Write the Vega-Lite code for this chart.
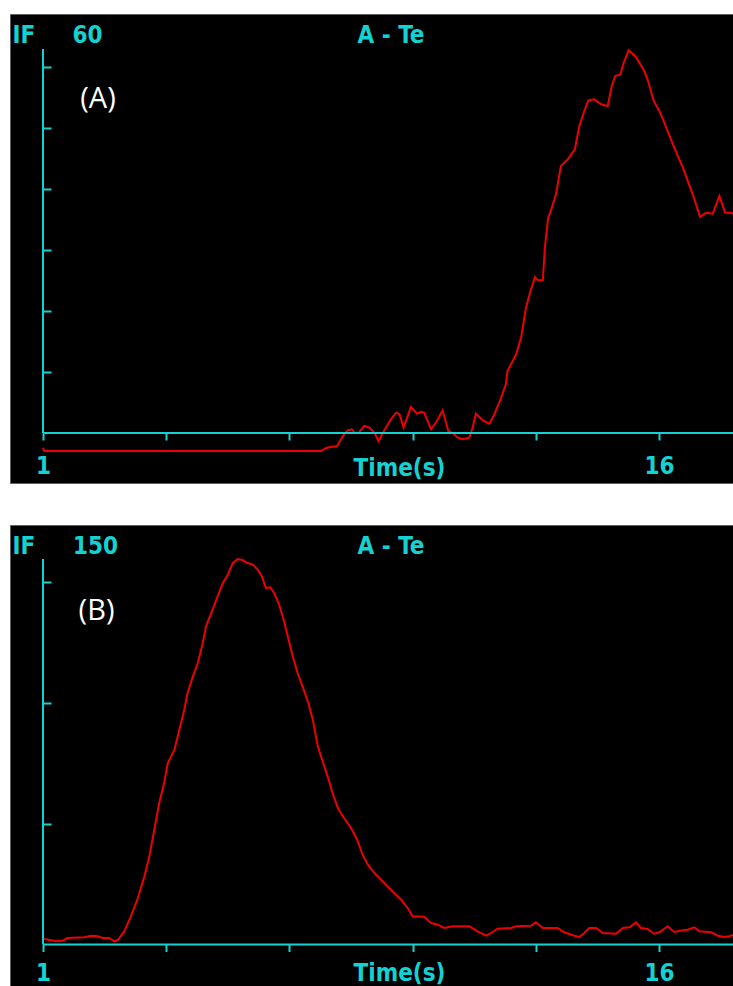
{
  "$schema": "https://vega.github.io/schema/vega-lite/v6.json",
  "background": "white",
  "padding": {"left": 9, "top": 13, "right": 0, "bottom": 0},
  "spacing": 40,
  "config": {
    "view": {"fill": "black", "stroke": "#606060", "strokeWidth": 1},
    "text": {"font": "DejaVu Sans Condensed", "fontWeight": "bold", "fontSize": 24, "color": "#14d2d2", "align": "center", "baseline": "alphabetic"},
    "rule": {"color": "#14d2d2", "strokeWidth": 2},
    "line": {"color": "#ee0000", "strokeWidth": 2}
  },
  "resolve": {"scale": {"x": "independent", "y": "independent"}},
  "datasets": {
    "a": [
      {"t": 1.0, "v": -2.46}, {"t": 1.03, "v": -2.95}, {"t": 7.77, "v": -2.95}, {"t": 7.89, "v": -2.46},
      {"t": 8.01, "v": -2.30}, {"t": 8.16, "v": -2.13}, {"t": 8.30, "v": -0.49}, {"t": 8.42, "v": 0.44},
      {"t": 8.52, "v": 0.61}, {"t": 8.58, "v": 0.05}, {"t": 8.69, "v": 0.05}, {"t": 8.82, "v": 1.15},
      {"t": 8.95, "v": 0.87}, {"t": 9.07, "v": 0.05}, {"t": 9.17, "v": -1.31}, {"t": 9.30, "v": 0.33},
      {"t": 9.47, "v": 2.25}, {"t": 9.60, "v": 3.33}, {"t": 9.68, "v": 3.07}, {"t": 9.78, "v": 0.87},
      {"t": 9.96, "v": 4.26}, {"t": 10.11, "v": 3.16}, {"t": 10.20, "v": 3.49}, {"t": 10.28, "v": 3.33},
      {"t": 10.45, "v": 0.61}, {"t": 10.59, "v": 1.97}, {"t": 10.73, "v": 3.72}, {"t": 10.87, "v": 0.33},
      {"t": 10.98, "v": -0.05}, {"t": 11.10, "v": -0.77}, {"t": 11.22, "v": -1.03}, {"t": 11.38, "v": -0.77},
      {"t": 11.46, "v": 0.87}, {"t": 11.54, "v": 3.16}, {"t": 11.71, "v": 2.08}, {"t": 11.87, "v": 1.52},
      {"t": 11.99, "v": 3.07}, {"t": 12.15, "v": 5.66}, {"t": 12.27, "v": 8.0}, {"t": 12.31, "v": 10.16},
      {"t": 12.52, "v": 12.90}, {"t": 12.64, "v": 15.62}, {"t": 12.76, "v": 20.54}, {"t": 12.87, "v": 23.28},
      {"t": 12.98, "v": 25.57}, {"t": 13.05, "v": 25.03}, {"t": 13.17, "v": 25.03}, {"t": 13.22, "v": 30.38},
      {"t": 13.30, "v": 35.30}, {"t": 13.35, "v": 36.11}, {"t": 13.44, "v": 38.03}, {"t": 13.49, "v": 39.13},
      {"t": 13.61, "v": 43.77}, {"t": 13.78, "v": 44.87}, {"t": 13.95, "v": 46.51}, {"t": 14.06, "v": 50.33},
      {"t": 14.18, "v": 52.79}, {"t": 14.28, "v": 54.54}, {"t": 14.42, "v": 54.70}, {"t": 14.59, "v": 53.89},
      {"t": 14.75, "v": 53.61}, {"t": 14.85, "v": 56.89}, {"t": 14.93, "v": 58.52}, {"t": 15.06, "v": 58.80},
      {"t": 15.14, "v": 60.70}, {"t": 15.26, "v": 62.74}, {"t": 15.44, "v": 61.64}, {"t": 15.64, "v": 59.34},
      {"t": 15.72, "v": 57.98}, {"t": 15.87, "v": 54.43}, {"t": 16.03, "v": 52.51}, {"t": 16.37, "v": 46.77},
      {"t": 16.58, "v": 43.49}, {"t": 16.82, "v": 39.13}, {"t": 17.00, "v": 35.41}, {"t": 17.14, "v": 36.11},
      {"t": 17.31, "v": 35.95}, {"t": 17.47, "v": 38.85}, {"t": 17.61, "v": 36.11}, {"t": 17.75, "v": 36.11},
      {"t": 17.825, "v": 35.85}
    ],
    "b": [
      {"t": 1.03, "v": 2.28}, {"t": 1.20, "v": 1.74}, {"t": 1.32, "v": 1.32}, {"t": 1.48, "v": 1.57},
      {"t": 1.60, "v": 2.69}, {"t": 2.01, "v": 2.98}, {"t": 2.17, "v": 3.64}, {"t": 2.33, "v": 3.39},
      {"t": 2.45, "v": 2.69}, {"t": 2.61, "v": 2.69}, {"t": 2.74, "v": 1.32}, {"t": 2.83, "v": 1.99},
      {"t": 2.98, "v": 5.46}, {"t": 3.14, "v": 11.67}, {"t": 3.31, "v": 19.24}, {"t": 3.47, "v": 28.22},
      {"t": 3.59, "v": 36.50}, {"t": 3.71, "v": 47.50}, {"t": 3.83, "v": 58.55}, {"t": 3.95, "v": 66.83},
      {"t": 4.04, "v": 75.10}, {"t": 4.20, "v": 80.61}, {"t": 4.32, "v": 88.88}, {"t": 4.44, "v": 97.16},
      {"t": 4.52, "v": 104.07}, {"t": 4.65, "v": 110.98}, {"t": 4.77, "v": 116.48}, {"t": 4.89, "v": 124.76},
      {"t": 4.97, "v": 131.67}, {"t": 5.13, "v": 138.54}, {"t": 5.25, "v": 144.08}, {"t": 5.38, "v": 149.58},
      {"t": 5.50, "v": 153.02}, {"t": 5.62, "v": 157.86}, {"t": 5.74, "v": 159.51}, {"t": 5.86, "v": 159.10},
      {"t": 5.94, "v": 158.15}, {"t": 6.11, "v": 157.16}, {"t": 6.23, "v": 155.09}, {"t": 6.33, "v": 152.36},
      {"t": 6.43, "v": 147.52}, {"t": 6.53, "v": 147.81}, {"t": 6.63, "v": 145.45}, {"t": 6.75, "v": 140.61},
      {"t": 6.86, "v": 134.40}, {"t": 6.96, "v": 127.53}, {"t": 7.08, "v": 119.25}, {"t": 7.20, "v": 112.34},
      {"t": 7.32, "v": 106.84}, {"t": 7.46, "v": 99.93}, {"t": 7.57, "v": 93.02}, {"t": 7.69, "v": 82.01},
      {"t": 7.81, "v": 75.81}, {"t": 7.93, "v": 69.60}, {"t": 8.05, "v": 62.69}, {"t": 8.18, "v": 56.48},
      {"t": 8.30, "v": 53.05}, {"t": 8.50, "v": 48.21}, {"t": 8.65, "v": 43.36}, {"t": 8.78, "v": 37.16},
      {"t": 8.91, "v": 33.02}, {"t": 9.07, "v": 29.59}, {"t": 9.31, "v": 25.45}, {"t": 9.47, "v": 22.68},
      {"t": 9.72, "v": 18.54}, {"t": 9.88, "v": 15.10}, {"t": 10.00, "v": 11.67}, {"t": 10.28, "v": 11.50},
      {"t": 10.45, "v": 8.90}, {"t": 10.61, "v": 8.19}, {"t": 10.77, "v": 6.83}, {"t": 10.98, "v": 7.53},
      {"t": 11.38, "v": 7.53}, {"t": 11.58, "v": 5.46}, {"t": 11.79, "v": 3.64}, {"t": 11.91, "v": 4.76},
      {"t": 12.07, "v": 6.54}, {"t": 12.40, "v": 6.83}, {"t": 12.52, "v": 7.53}, {"t": 12.88, "v": 7.78},
      {"t": 13.00, "v": 9.19}, {"t": 13.17, "v": 6.83}, {"t": 13.53, "v": 6.83}, {"t": 13.69, "v": 5.05},
      {"t": 13.94, "v": 3.64}, {"t": 14.06, "v": 3.10}, {"t": 14.18, "v": 4.76}, {"t": 14.30, "v": 6.83},
      {"t": 14.47, "v": 6.83}, {"t": 14.63, "v": 4.76}, {"t": 14.95, "v": 4.47}, {"t": 15.12, "v": 6.83},
      {"t": 15.28, "v": 7.12}, {"t": 15.44, "v": 9.19}, {"t": 15.56, "v": 6.83}, {"t": 15.72, "v": 6.41},
      {"t": 15.88, "v": 4.47}, {"t": 16.01, "v": 5.05}, {"t": 16.21, "v": 7.53}, {"t": 16.37, "v": 5.17},
      {"t": 16.58, "v": 5.88}, {"t": 16.70, "v": 6.12}, {"t": 16.86, "v": 7.12}, {"t": 16.98, "v": 5.46},
      {"t": 17.27, "v": 5.05}, {"t": 17.43, "v": 3.64}, {"t": 17.59, "v": 3.10}, {"t": 17.71, "v": 3.39},
      {"t": 17.825, "v": 4.06}
    ]
  },
  "vconcat": [
    {
      "width": 724,
      "height": 469,
      "layer": [
        {
          "data": {"name": "a"},
          "mark": {"type": "line", "clip": true},
          "encoding": {
            "x": {
              "field": "t", "type": "quantitative",
              "scale": {"domain": [0.1965, 17.825], "nice": false, "zero": false},
              "axis": {
                "orient": "bottom", "offset": -50, "values": [1, 4, 7, 10, 13, 16],
                "domain": false, "grid": false, "tickSize": 7, "tickWidth": 2, "tickColor": "#14d2d2",
                "labelExpr": "datum.value == 1 || datum.value == 16 ? datum.label : ''",
                "labelFlush": false, "labelOverlap": false, "labelBaseline": "alphabetic", "labelPadding": 33,
                "labelColor": "#14d2d2", "labelFont": "DejaVu Sans Condensed", "labelFontWeight": "bold", "labelFontSize": 24,
                "title": "Time(s)", "titleColor": "#14d2d2", "titleFont": "DejaVu Sans Condensed", "titleFontWeight": "bold", "titleFontSize": 24,
                "titleX": 389, "titleY": 42, "titleBaseline": "alphabetic", "titleAlign": "center", "titleAnchor": null
              }
            },
            "y": {
              "field": "v", "type": "quantitative",
              "scale": {"domain": [-8.197, 68.69], "nice": false, "zero": false},
              "axis": {
                "orient": "right", "offset": -691, "values": [10, 20, 30, 40, 50, 60],
                "domain": false, "grid": false, "labels": false, "title": null,
                "tickSize": 8, "tickWidth": 2, "tickColor": "#14d2d2"
              }
            }
          }
        },
        {
          "data": {"values": [{}]},
          "mark": {"type": "rule"},
          "encoding": {"x": {"datum": 1}, "x2": {"datum": 17.825}, "y": {"datum": 0}}
        },
        {
          "data": {"values": [{}]},
          "mark": {"type": "rule"},
          "encoding": {"x": {"datum": 1}, "y": {"datum": 0}, "y2": {"datum": 62.95}}
        },
        {
          "data": {"values": [{"label": "IF", "t": 0.537}, {"label": "60", "t": 2.084}, {"label": "A - Te", "t": 9.473}]},
          "mark": {"type": "text"},
          "encoding": {"x": {"field": "t", "type": "quantitative"}, "y": {"datum": 63.94}, "text": {"field": "label"}}
        },
        {
          "data": {"values": [{"label": "(A)"}]},
          "mark": {"type": "text", "font": "Open Sans", "fontWeight": "normal", "fontSize": 29, "color": "white"},
          "encoding": {"x": {"datum": 2.339}, "y": {"datum": 53.28}, "text": {"field": "label"}}
        }
      ]
    },
    {
      "width": 724,
      "height": 464,
      "layer": [
        {
          "data": {"name": "b"},
          "mark": {"type": "line", "clip": true},
          "encoding": {
            "x": {
              "field": "t", "type": "quantitative",
              "scale": {"domain": [0.1965, 17.825], "nice": false, "zero": false},
              "axis": {
                "orient": "bottom", "offset": -44.5, "values": [1, 4, 7, 10, 13, 16],
                "domain": false, "grid": false, "tickSize": 7, "tickWidth": 2, "tickColor": "#14d2d2",
                "labelExpr": "datum.value == 1 || datum.value == 16 ? datum.label : ''",
                "labelFlush": false, "labelOverlap": false, "labelBaseline": "alphabetic", "labelPadding": 29,
                "labelColor": "#14d2d2", "labelFont": "DejaVu Sans Condensed", "labelFontWeight": "bold", "labelFontSize": 24,
                "title": "Time(s)", "titleColor": "#14d2d2", "titleFont": "DejaVu Sans Condensed", "titleFontWeight": "bold", "titleFontSize": 24,
                "titleX": 389, "titleY": 36, "titleBaseline": "alphabetic", "titleAlign": "center", "titleAnchor": null
              }
            },
            "y": {
              "field": "v", "type": "quantitative",
              "scale": {"domain": [-18.41, 173.6], "nice": false, "zero": false},
              "axis": {
                "orient": "right", "offset": -691, "values": [50, 100, 150],
                "domain": false, "grid": false, "labels": false, "title": null,
                "tickSize": 8, "tickWidth": 2, "tickColor": "#14d2d2"
              }
            }
          }
        },
        {
          "data": {"values": [{}]},
          "mark": {"type": "rule"},
          "encoding": {"x": {"datum": 1}, "x2": {"datum": 17.825}, "y": {"datum": 0}}
        },
        {
          "data": {"values": [{}]},
          "mark": {"type": "rule"},
          "encoding": {"x": {"datum": 1}, "y": {"datum": 0}, "y2": {"datum": 159.5}}
        },
        {
          "data": {"values": [{"label": "IF", "t": 0.537}, {"label": "150", "t": 2.278}, {"label": "A - Te", "t": 9.473}]},
          "mark": {"type": "text"},
          "encoding": {"x": {"field": "t", "type": "quantitative"}, "y": {"datum": 161.7}, "text": {"field": "label"}}
        },
        {
          "data": {"values": [{"label": "(B)"}]},
          "mark": {"type": "text", "font": "Open Sans", "fontWeight": "normal", "fontSize": 29, "color": "white"},
          "encoding": {"x": {"datum": 2.303}, "y": {"datum": 134.3}, "text": {"field": "label"}}
        }
      ]
    }
  ]
}
